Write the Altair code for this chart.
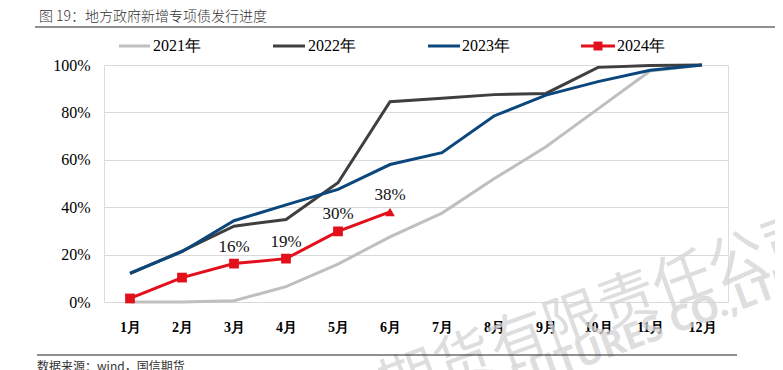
import altair as alt
import pandas as pd

months = ["1月", "2月", "3月", "4月", "5月", "6月", "7月", "8月", "9月", "10月", "11月", "12月"]
years = ["2021年", "2022年", "2023年", "2024年"]
v2021 = [0.0, 0.0, 0.5, 6.5, 16.0, 27.5, 37.5, 52.0, 65.5, 81.5, 97.5, 100.0]
v2022 = [12.0, 21.5, 32.0, 34.8, 50.3, 84.5, 86.0, 87.5, 88.0, 99.0, 99.8, 100.0]
v2023 = [12.2, 21.2, 34.3, 41.0, 47.5, 58.0, 63.0, 78.5, 87.3, 93.0, 97.8, 100.0]
v2024 = [1.5, 10.3, 16.2, 18.3, 29.8, 38.0]
labels2024 = ["", "", "16%", "19%", "30%", "38%"]
colors = ["#bfbfbf", "#3f3f3f", "#0b477c", "#e3101b"]

title_text = "图 19：地方政府新增专项债发行进度"
source_text = "数据来源：wind，国信期货"
wm_cn = "国信期货有限责任公司"
wm_en = "GUOSEN FUTURES CO.,LTD"

rows = []
for yr, vals in zip(years, [v2021, v2022, v2023, v2024]):
    for m, v in zip(months, vals):
        rows.append({"month": m, "year": yr, "value": v})
df = pd.DataFrame(rows)
df24 = pd.DataFrame({"month": months[:len(v2024)], "value": v2024, "label": labels2024,
                     "year": "2024年"})
df24["shape"] = ["square"] * (len(v2024) - 1) + ["triangle-up"]

SERIF = "Liberation Serif"

x_enc = alt.X("month:O", sort=months, scale=alt.Scale(domain=months),
              axis=alt.Axis(title=None, labelAngle=0, ticks=False, domain=False, grid=False,
                            labelFont=SERIF, labelFontSize=14, labelFontWeight="bold",
                            labelColor="#000000", labelPadding=18))
y_enc = alt.Y("value:Q", scale=alt.Scale(domain=[0, 100], nice=False),
              axis=alt.Axis(title=None, values=[0, 20, 40, 60, 80, 100],
                            labelExpr="datum.value + '%'", ticks=False, domain=False,
                            gridColor="#d9d9d9", gridWidth=1.2, labelFont=SERIF,
                            labelFontSize=16, labelColor="#000000", labelPadding=14))
color_enc = alt.Color("year:N", scale=alt.Scale(domain=years, range=colors), legend=None)

lines = alt.Chart(df).mark_line(strokeWidth=3).encode(
    x=x_enc, y=y_enc, color=color_enc, order=alt.Order("year:N"))

pts = alt.Chart(df24).mark_point(filled=True, size=95, opacity=1, color=colors[3]).encode(
    x=alt.X("month:O", sort=months), y="value:Q",
    shape=alt.Shape("shape:N", scale=None))

lbls = alt.Chart(df24).mark_text(font=SERIF, fontSize=17, dy=-17, color="#111111",
                                 baseline="middle").encode(
    x=alt.X("month:O", sort=months), y="value:Q", text="label:N")

one = pd.DataFrame({"a": [0]})

# watermark (drawn first, underneath)
layers = [
    alt.Chart(one).mark_text(font="Noto Sans CJK SC", fontSize=58, align="right",
                             baseline="middle", angle=340, color="#d4d4d4",
                             opacity=0.75).encode(
        x=alt.value(715), y=alt.value(168), text=alt.value(wm_cn)),
    alt.Chart(one).mark_text(font="Noto Sans", fontSize=36, align="right",
                             baseline="middle", angle=340, color="#d4d4d4",
                             fontWeight="bold", opacity=0.75).encode(
        x=alt.value(695), y=alt.value(212), text=alt.value(wm_en)),
    lines, pts, lbls,
]

# legend
leg_pos = [(15, 46, 49), (169, 201, 204), (324, 356, 358), (477, 511, 513)]
for (x0, x1, xt), yr, c in zip(leg_pos, years, colors):
    layers.append(alt.Chart(one).mark_rule(color=c, strokeWidth=3).encode(
        x=alt.value(x0), x2=alt.value(x1), y=alt.value(-19)))
    layers.append(alt.Chart(one).mark_text(font=SERIF, fontSize=16, align="left",
                                           baseline="middle", color="#000000").encode(
        x=alt.value(xt), y=alt.value(-19), text=alt.value(yr)))
layers.append(alt.Chart(one).mark_point(shape="square", filled=True, size=80, opacity=1,
                                        color=colors[3]).encode(
    x=alt.value(494), y=alt.value(-19)))

# title and rules
layers.append(alt.Chart(one).mark_text(font="Noto Sans CJK SC", fontSize=14, align="left",
                                       fontWeight=300, baseline="alphabetic",
                                       color="#333333").encode(
    x=alt.value(-65), y=alt.value(-44), text=alt.value(title_text)))
layers.append(alt.Chart(one).mark_rule(color="#222222", strokeWidth=1.2).encode(
    x=alt.value(-69), x2=alt.value(680), y=alt.value(-38)))
layers.append(alt.Chart(one).mark_rule(color="#222222", strokeWidth=1.2).encode(
    x=alt.value(-67), x2=alt.value(633), y=alt.value(290)))
layers.append(alt.Chart(one).mark_text(font="Noto Sans CJK SC", fontSize=12, align="left",
                                       baseline="top", color="#333333").encode(
    x=alt.value(-67), y=alt.value(297), text=alt.value(source_text)))

chart = alt.layer(*layers).properties(
    width=624, height=237,
    autosize=alt.AutoSizeParams(type="none"),
    padding={"left": 96, "top": 57, "right": 47, "bottom": 68},
).configure_view(stroke=None).configure(background="#ffffff")

chart.save("out.html", embed_options={"renderer": "svg", "actions": False})
